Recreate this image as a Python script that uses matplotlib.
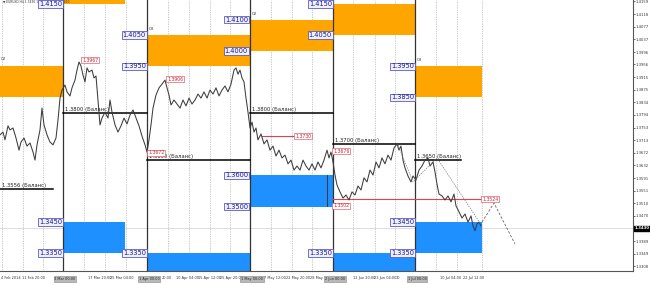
import matplotlib
matplotlib.use("Agg")
import matplotlib.pyplot as plt
from matplotlib.patches import Rectangle

# ---------------- data ----------------
bar_pos = [0, 3, 5, 8, 10, 13, 16, 19, 21, 24, 27, 30, 33, 35, 37, 40, 42, 44, 47, 50,
           53, 56, 58, 60, 62, 65, 67, 70, 72, 75, 77, 79, 81, 83, 85, 87, 89, 92, 94, 96,
           98, 100, 102, 105, 108, 110, 112, 115, 118, 121, 124, 127, 130, 133, 136, 139, 142, 145, 147, 149,
           151, 153, 156, 159, 162, 165, 167, 169, 171, 174, 177, 180, 183, 186, 189, 192, 195, 198, 201, 204,
           207, 210, 213, 216, 219, 222, 225, 228, 231, 234, 236, 238, 240, 242, 244, 246, 248, 250, 252, 254,
           256, 258, 261, 264, 267, 270, 273, 276, 279, 282, 285, 288, 291, 294, 297, 300, 303, 306, 309, 312,
           315, 318, 321, 324, 327, 329, 331, 333, 335, 337, 340, 343, 346, 349, 352, 355, 358, 361, 364, 367,
           370, 373, 376, 379, 382, 385, 388, 391, 394, 397, 399, 401, 403, 405, 408, 411, 413, 416, 419, 422,
           425, 428, 430, 433, 435, 437, 439, 442, 445, 448, 451, 454, 456, 459, 462, 465, 468, 471, 473, 475,
           477, 479, 481]
close = [1.3730, 1.3739, 1.3714, 1.3759, 1.3746, 1.3752, 1.3720, 1.3681, 1.3707, 1.3720,
         1.3694, 1.3704, 1.3675, 1.3649, 1.3698, 1.3746, 1.3816, 1.3762, 1.3730, 1.3707,
         1.3698, 1.3720, 1.3778, 1.3848, 1.3874, 1.3890, 1.3868, 1.3855, 1.3881, 1.3906,
         1.3938, 1.3964, 1.3951, 1.3922, 1.3900, 1.3945, 1.3932, 1.3938, 1.3913, 1.3919,
         1.3842, 1.3762, 1.3784, 1.3803, 1.3784, 1.3842, 1.3803, 1.3762, 1.3739, 1.3759,
         1.3784, 1.3765, 1.3794, 1.3810, 1.3784, 1.3759, 1.3726, 1.3698, 1.3675, 1.3714,
         1.3762, 1.3816, 1.3858, 1.3881, 1.3893, 1.3906, 1.3881, 1.3858, 1.3826, 1.3842,
         1.3829, 1.3816, 1.3842, 1.3823, 1.3848, 1.3829, 1.3842, 1.3861, 1.3848, 1.3868,
         1.3848, 1.3874, 1.3861, 1.3881, 1.3855, 1.3874, 1.3887, 1.3868, 1.3893, 1.3938,
         1.3945, 1.3925, 1.3938, 1.3913, 1.3900, 1.3848, 1.3803, 1.3752, 1.3771, 1.3739,
         1.3752, 1.3714, 1.3733, 1.3701, 1.3714, 1.3681, 1.3694, 1.3662, 1.3681, 1.3656,
         1.3665, 1.3637, 1.3649, 1.3617, 1.3630, 1.3617, 1.3649, 1.3630, 1.3617, 1.3637,
         1.3617, 1.3643, 1.3624, 1.3649, 1.3681, 1.3656, 1.3675, 1.3643, 1.3601, 1.3569,
         1.3547, 1.3527, 1.3537, 1.3521, 1.3547, 1.3537, 1.3566, 1.3553, 1.3592, 1.3579,
         1.3617, 1.3601, 1.3643, 1.3624, 1.3656, 1.3637, 1.3665, 1.3649, 1.3688, 1.3701,
         1.3681, 1.3694, 1.3649, 1.3624, 1.3598, 1.3579, 1.3598, 1.3585, 1.3617, 1.3630,
         1.3649, 1.3656, 1.3630, 1.3643, 1.3611, 1.3572, 1.3540, 1.3534, 1.3521, 1.3534,
         1.3515, 1.3540, 1.3502, 1.3483, 1.3463, 1.3476, 1.3450, 1.3470, 1.3438, 1.3422,
         1.3444, 1.3450, 1.3438]

# monthly zones
zone_start = [0, 63, 147, 250, 333, 415]
zone_end = [63, 125, 250, 333, 415, 482]
res_top = [1.3950, 1.4250, 1.4050, 1.4100, 1.4150, 1.3950]
res_bot = [1.3850, 1.4150, 1.3950, 1.4000, 1.4050, 1.3850]
sup_top = [None, 1.3450, 1.3350, 1.3600, 1.3350, 1.3450]
sup_bot = [None, 1.3350, 1.3250, 1.3500, 1.3250, 1.3350]

# level labels (x of right edge, price)
lvl_x = [62, 62, 62, 146, 146, 146, 248, 248, 248, 248, 332, 332, 332, 414, 414, 414, 414]
lvl_p = [1.4150, 1.3450, 1.3350, 1.4050, 1.3950, 1.3350, 1.4100, 1.4000, 1.3600, 1.3500,
         1.4150, 1.4050, 1.3350, 1.3950, 1.3850, 1.3450, 1.3350]

# balance lines
bal_start = [0, 63, 147, 250, 333, 415]
bal_end = [53, 147, 250, 333, 415, 461]
bal_price = [1.3556, 1.3800, 1.3650, 1.3800, 1.3700, 1.3650]

# red price marks
red_x = [82, 167, 295, 148, 333, 333, 482]
red_p = [1.3970, 1.3909, 1.3726, 1.3672, 1.3678, 1.3502, 1.3524]
red_txt = ["1.3967", "1.3906", "1.3730", "1.3672", "1.3676", "1.3502", "1.3524"]

# zigzag / forecast
zz_x = [398, 413, 437, 480]
zz_p = [1.3698, 1.3579, 1.3656, 1.3447]
fc_x = [482, 494, 515]
fc_p = [1.3450, 1.3511, 1.3380]

separators = [63, 147, 250, 333, 415]
grid_x = [2, 23, 43, 84, 105, 126, 168, 189, 210, 230, 271, 292, 312, 353, 375, 395, 436, 457, 482]

y_ticks = [1.4159, 1.4118, 1.4077, 1.4037, 1.3996, 1.3956, 1.3915, 1.3875, 1.3834, 1.3794,
           1.3753, 1.3713, 1.3672, 1.3632, 1.3591, 1.3551, 1.3510, 1.3470, 1.3389, 1.3349, 1.3308]
current_price = 1.3430

x_lab_pos = [1, 22, 88, 110, 162, 176, 198, 220, 264, 286, 310, 353, 374, 396, 440, 463]
x_lab_txt = ["4 Feb 2014", "11 Feb 20:00", "17 Mar 20:00", "25 Mar 04:00", "20:00", "10 Apr 04:00",
             "15 Apr 12:00", "25 Apr 20:00", "7 May 12:00", "22 May 20:00", "28 May",
             "12 Jun 20:00", "23 Jun 04:00", "30", "10 Jul 04:00", "22 Jul 12:00"]
sep_txt = ["3 Mar 00:00", "1 Apr 00:00", "1 May 00:00", "2 Jun 00:00", "1 Jul 00:00"]

# ---------------- figure ----------------
W, H = 650, 285
fig = plt.figure(figsize=(W / 100, H / 100), dpi=100)
fig.patch.set_facecolor("white")
ax = fig.add_axes([0, 14 / H, 633 / W, 271 / H])
ymin, ymax = 1.3293, 1.4163
ax.set_xlim(0, 633)
ax.set_ylim(ymin, ymax)

ORANGE = "#FFA500"
BLUE = "#1E90FF"

for gx in grid_x:
    ax.axvline(gx, color="#9a9a9a", lw=0.5, ls=(0, (1, 1.5)), zorder=1)
ax.axhline(current_price, color="#d8d8d8", lw=0.6, zorder=1)

for i in range(len(zone_start)):
    ax.add_patch(Rectangle((zone_start[i], res_bot[i]), zone_end[i] - zone_start[i],
                           res_top[i] - res_bot[i], fc=ORANGE, ec="none", zorder=2))
    if sup_top[i] is not None:
        ax.add_patch(Rectangle((zone_start[i], sup_bot[i]), zone_end[i] - zone_start[i],
                               sup_top[i] - sup_bot[i], fc=BLUE, ec="none", zorder=2))

for sx in separators:
    ax.axvline(sx, color="#333333", lw=0.9, zorder=3)

for i in range(len(bal_start)):
    ax.plot([bal_start[i], bal_end[i]], [bal_price[i], bal_price[i]], color="black", lw=1.1, zorder=4)
    ax.text(bal_start[i] + 2, bal_price[i] + 0.0004, f"{bal_price[i]:.4f} (Баланс)",
            fontsize=3.8, color="#222222", ha="left", va="bottom", zorder=6)

# red horizontal lines
ax.plot([333, 482], [1.3524, 1.3524], color="#e04050", lw=0.8, zorder=4)
ax.plot([262, 294], [1.3726, 1.3726], color="#e04050", lw=0.8, zorder=4)

# price
ax.plot(bar_pos, close, color="#3c3c3c", lw=0.75, zorder=5)
ax.plot([327, 327], [1.3502, 1.3600], color="#3c3c3c", lw=0.75, zorder=5)

ax.plot(zz_x, zz_p, color="#777777", lw=0.5, ls=(0, (2, 1.5)), zorder=5)
ax.plot(fc_x, fc_p, color="#666666", lw=0.6, ls=(0, (3, 2)), zorder=5)

for x, p in zip(lvl_x, lvl_p):
    ax.text(x, p, f"{p:.4f}", fontsize=4.8, color="#1a1a8c", ha="right", va="center", zorder=7,
            bbox=dict(boxstyle="square,pad=0.12", fc="#f0f0ff", ec="#5a5ac8", lw=0.6))

for x, p, t in zip(red_x, red_p, red_txt):
    ax.text(x, p, t, fontsize=3.3, color="#d02030", ha="left", va="center", zorder=7,
            bbox=dict(boxstyle="square,pad=0.12", fc="white", ec="#e06070", lw=0.5))

ax.text(3, 1.4157, "▼ EURUSD,H4 1.3430 1.3437 1.3428 1.3430", fontsize=2.2, color="#333333",
        ha="left", va="center", zorder=6)
for x, p, t in [(0, 1.3967, "02"), (148, 1.4063, "03"), (251, 1.4112, "02"), (416, 1.3963, "03")]:
    ax.text(x + 1, p, t, fontsize=3.2, color="#555555", ha="left", va="bottom", zorder=8)

# axes styling
for s in ["left", "top"]:
    ax.spines[s].set_visible(False)
ax.spines["right"].set_color("#555555")
ax.spines["bottom"].set_color("#555555")
ax.spines["right"].set_linewidth(0.8)
ax.spines["bottom"].set_linewidth(0.8)
ax.yaxis.tick_right()
ax.set_yticks(y_ticks)
ax.set_yticklabels([f"{v:.4f}" for v in y_ticks])
ax.tick_params(axis="y", labelsize=2.7, length=1.2, width=0.5, pad=0.8, colors="#333333")
ax.set_xticks(x_lab_pos)
ax.set_xticklabels(x_lab_txt)
ax.tick_params(axis="x", labelsize=2.5, length=0, pad=3.8, colors="#333333")
for lab in ax.get_xticklabels():
    lab.set_horizontalalignment("left")

ax.text(1.002, (current_price - ymin) / (ymax - ymin), f"{current_price:.4f}", transform=ax.transAxes,
        fontsize=2.8, color="white", ha="left", va="center", fontweight="bold",
        bbox=dict(boxstyle="square,pad=0.12", fc="black", ec="black"), clip_on=False)

for sx, t in zip(separators, sep_txt):
    ax.text(sx + 2, -0.029, t, transform=ax.get_xaxis_transform(), fontsize=2.5, color="#222222",
            ha="center", va="center", clip_on=False,
            bbox=dict(boxstyle="square,pad=0.2", fc="#b8b8b8", ec="#888888", lw=0.4))

fig.savefig("out.png", dpi=100, facecolor="white")
